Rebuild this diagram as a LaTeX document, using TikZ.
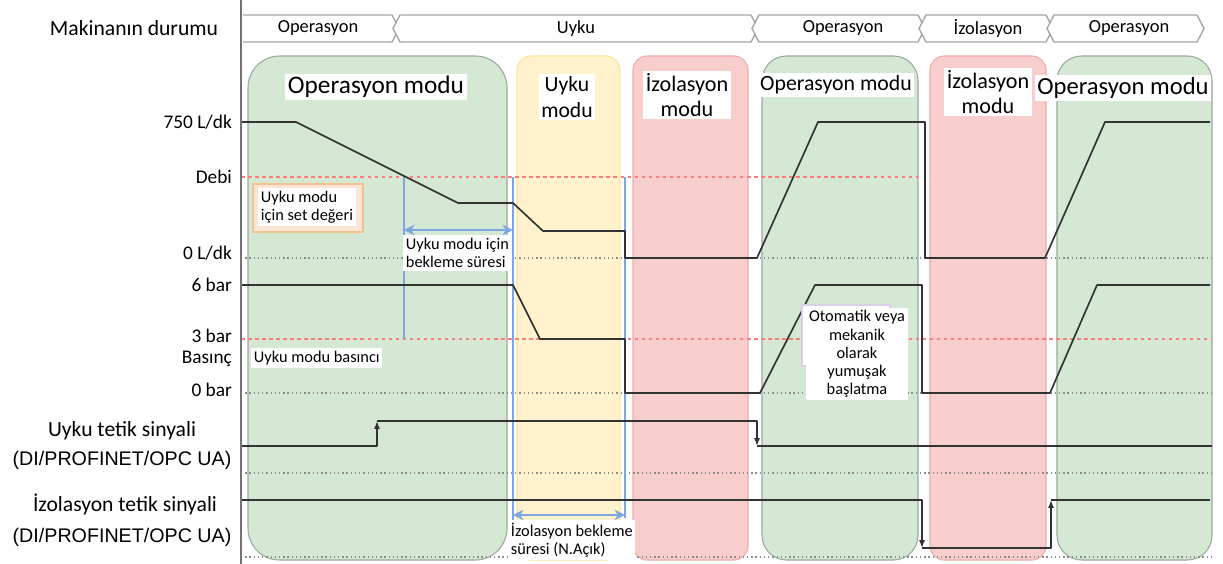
\documentclass[tikz,border=0pt]{standalone}
\usepackage{fontspec}
\setmainfont{Carlito}
\newfontfamily\arialfont{Liberation Sans}
\usetikzlibrary{arrows.meta}

\definecolor{opgreen}{HTML}{D5E8D4}
\definecolor{opgreenline}{HTML}{9CA89B}
\definecolor{sleepyellow}{HTML}{FFF2CC}
\definecolor{sleepyellowline}{HTML}{FBE3A2}
\definecolor{isored}{HTML}{F8CECC}
\definecolor{isoredline}{HTML}{EEABAB}
\definecolor{setred}{HTML}{FF7C7C}
\definecolor{waitblue}{HTML}{7EA6E0}
\definecolor{bannerline}{HTML}{A6A6A6}
\definecolor{setorange}{HTML}{FCE4D6}
\definecolor{setorangeline}{HTML}{F4C28F}
\definecolor{notepurple}{HTML}{D9CFE6}

\begin{document}
\begin{tikzpicture}[x=0.02cm, y=-0.02cm]
    % ===================================
    % Settings
    % ===================================
    \def\xAx{241}    % x of the time axis
    \def\xEnd{1212}  % right end of the traces
    \def\yFmax{122}  % 750 L/dk
    \def\yFset{177}  % flow set value (Debi)
    \def\yFzero{258} % 0 L/dk
    \def\yPmax{285}  % 6 bar
    \def\yPset{339}  % 3 bar
    \def\yPzero{393} % 0 bar
    \def\ySon{421}   % sleep trigger high
    \def\ySoff{446}  % sleep trigger low
    \def\ySbase{473} % sleep trigger base line
    \def\yIon{500}   % isolation trigger high
    \def\yIoff{548}  % isolation trigger low
    \def\yIbase{557} % isolation trigger base line

    \tikzset{
        axislbl/.style={anchor=east, inner sep=1pt, font=\fontsize{11}{13}\selectfont},
        siglbl/.style={inner sep=1pt, font=\fontsize{12.3}{14}\selectfont},
        buslbl/.style={inner sep=1pt, font=\arialfont\fontsize{11.2}{13}\selectfont},
        bannertxt/.style={inner sep=1pt, font=\fontsize{10.5}{12}\selectfont},
        modetxt/.style={fill=white, inner sep=1.5pt, align=center},
        note/.style={fill=white, inner sep=1.5pt, align=left, font=\fontsize{9.3}{10.5}\selectfont},
        trace/.style={draw=black!80, line width=0.95pt, line join=round},
        trig/.style={trace, -{Latex[length=4.5pt, width=3.5pt]}},
        setline/.style={draw=setred, line width=0.9pt, dash pattern=on 2pt off 2pt},
        zeroline/.style={draw=black!45, line width=0.8pt, dash pattern=on 0.8pt off 1.6pt},
        waitline/.style={draw=waitblue, line width=1pt},
        waitarrow/.style={draw=waitblue, line width=1.3pt, {Stealth[length=6pt, width=6pt]}-{Stealth[length=6pt, width=6pt]}},
        op/.style={fill=opgreen, draw=opgreenline, line width=0.6pt},
        sleep/.style={fill=sleepyellow, draw=sleepyellowline, line width=0.6pt},
        iso/.style={fill=isored, draw=isoredline, line width=0.6pt}
    }
    % ===================================

    \useasboundingbox (0,0) rectangle (1223,564);

    % 1. mode backgrounds
    \foreach \a/\b/\r/\c in {248/507/18/op, 517/620/8/sleep, 633/748/8/iso,
                             762/918/14/op, 930/1046/8/iso, 1057/1212/14/op} {
        \draw[\c, rounded corners=\r pt] (\a,56) rectangle (\b,560);
    }

    % mode titles
    \node[modetxt, font=\fontsize{14.4}{16}\selectfont] (m1) at (376,87) {Operasyon modu};
    \node[modetxt, font=\fontsize{12.3}{14.5}\selectfont] (m2) at (567,97) {Uyku\\modu};
    \node[modetxt, font=\fontsize{12.6}{14.5}\selectfont] (m3) at (687,95) {İzolasyon\\modu};
    \node[modetxt, font=\fontsize{12.4}{14}\selectfont] (m4) at (836,85) {Operasyon modu};
    \node[modetxt, font=\fontsize{12.6}{14.5}\selectfont] (m5) at (988,92) {İzolasyon\\modu};
    \node[modetxt, font=\fontsize{14}{16}\selectfont] (m6) at (1123,88) {Operasyon modu};

    % 2. machine state banner
    \draw[fill=white, draw=bannerline, line width=0.8pt]
        (\xAx+2,15) -- (392,15) -- (399,28.5) -- (392,42) -- (\xAx+2,42);
    \foreach \a/\b in {396/755, 755/922, 922/1050, 1050/1201} {
        \draw[fill=white, draw=bannerline, line width=0.8pt]
            (\a+4,15) -- (\b-4,15) -- (\b+3,28.5) -- (\b-4,42) -- (\a+4,42) -- (\a-3,28.5) -- cycle;
    }
    \foreach \x/\t [count=\i] in {318/Operasyon, 576/Uyku, 843/Operasyon, 988/İzolasyon, 1129/Operasyon} {
        \node[bannertxt] (st\i) at (\x,28.5) {\t};
    }

    % 3. reference lines
    \draw[setline] (\xAx,\yFset) -- (918,\yFset);
    \draw[setline] (\xAx,\yPset) -- (\xEnd,\yPset);
    \foreach \y in {\yFzero, \yPzero, \ySbase, \yIbase} {
        \draw[zeroline] (\xAx,\y) -- (\xEnd,\y);
    }

    % waiting times
    \coordinate (w1) at (404,\yFset);
    \coordinate (w2) at (513,\yFset);
    \coordinate (w3) at (625,\yFset);
    \draw[waitline] (w1) -- (404,\yPset);
    \draw[waitline] (w2) -- (513,556);
    \draw[waitline] (w3) -- (625,518);
    \draw[waitarrow] (404,230) -- (513,230);
    \draw[waitarrow] (513,515) -- (625,515);

    % 4. traces
    % flow
    \draw[trace] (\xAx,\yFmax) -- (296,\yFmax) -- (458,203) -- (513,203) -- (543,231)
        -- (625,231) -- (625,\yFzero) -- (757,\yFzero) -- (818,\yFmax) -- (925,\yFmax)
        -- (925,\yFzero) -- (1045,\yFzero) -- (1105,\yFmax) -- (1210,\yFmax);
    % pressure
    \draw[trace] (\xAx,\yPmax) -- (513,\yPmax) -- (540,\yPset) -- (625,\yPset)
        -- (625,\yPzero) -- (760,\yPzero) -- (815,\yPmax) -- (922,\yPmax)
        -- (922,\yPzero) -- (1050,\yPzero) -- (1097,\yPmax) -- (1210,\yPmax);
    % sleep trigger
    \coordinate (sUp) at (377,\ySon);
    \coordinate (sDown) at (757,\ySoff);
    \draw[trig] (\xAx,\ySoff) -- (377,\ySoff) -- (sUp);
    \draw[trig] (sUp) -- (757,\ySon) -- (sDown);
    \draw[trace] (sDown) -- (\xEnd,\ySoff);
    % isolation trigger
    \coordinate (iDown) at (922,\yIoff);
    \coordinate (iUp) at (1051,\yIon);
    \draw[trig] (\xAx,\yIon) -- (922,\yIon) -- (iDown);
    \draw[trig] (iDown) -- (1051,\yIoff) -- (iUp);
    \draw[trace] (iUp) -- (1210,\yIon);

    % 5. notes
    \draw[fill=setorange, draw=setorangeline, line width=0.9pt] (253,184) rectangle (363,232);
    \node[note] (nSet) at (307,207) {Uyku modu\\için set değeri};
    \node[note, anchor=north west] (nWait) at (403,235) {Uyku modu için\\bekleme süresi};
    \node[note, anchor=west] (nPress) at (251,358) {Uyku modu basıncı};
    \node[note, anchor=north west] (nIso) at (508,520) {İzolasyon bekleme\\süresi (N.Açık)};
    \draw[fill=white, draw=notepurple, line width=0.8pt] (802,305) rectangle (890,366);
    \node[note, align=center, font=\fontsize{9.3}{10.4}\selectfont] (nSoft) at (857,354)
        {Otomatik veya\\mekanik\\olarak\\yumuşak\\başlatma};

    % 6. axis and labels
    \draw[draw=black!55, line width=1.1pt] (\xAx,0) -- (\xAx,564);
    \node[siglbl] (state) at (134,28) {Makinanın durumu};
    \node[axislbl] (lF1) at (234,\yFmax) {750 L/dk};
    \node[axislbl] (lF2) at (234,\yFset) {Debi};
    \node[axislbl] (lF3) at (234,253) {0 L/dk};
    \node[axislbl] (lP1) at (234,\yPmax) {6 bar};
    \node[axislbl] (lP2) at (234,336) {3 bar};
    \node[axislbl] (lP3) at (234,359) {Basınç};
    \node[axislbl] (lP4) at (234,390) {0 bar};
    \node[siglbl] (lS1) at (122,431) {Uyku tetik sinyali};
    \node[buslbl] (lS2) at (122,460) {(DI/PROFINET/OPC UA)};
    \node[siglbl] (lI1) at (125,504) {İzolasyon tetik sinyali};
    \node[buslbl] (lI2) at (122,537) {(DI/PROFINET/OPC UA)};

\end{tikzpicture}
\end{document}
